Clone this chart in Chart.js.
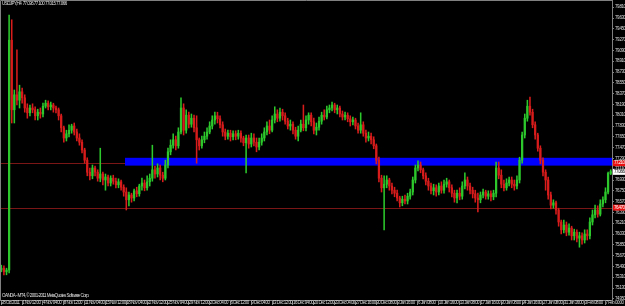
<!DOCTYPE html>
<html><head><meta charset="utf-8">
<script src="https://cdn.jsdelivr.net/npm/chart.js@4.4.1/dist/chart.umd.min.js"></script>
<style>html,body{margin:0;padding:0;background:#000;overflow:hidden}canvas{display:block}</style>
</head><body>
<canvas id="c" width="625" height="306"></canvas>
<script>
// USDJPY H4 candles, 28 Oct 2011 .. 7 Feb 2012
const openPrices = [
75.43,75.46,75.40,75.43,79.26,78.10,78.35,78.26,78.40,78.30,
78.13,78.05,78.13,78.10,78.00,78.06,78.03,78.16,78.21,78.15,
78.18,78.13,78.10,78.00,77.80,77.63,77.70,77.76,77.83,77.73,
77.63,77.56,77.43,77.26,77.06,77.00,77.13,77.06,76.96,77.03,
76.93,76.98,76.88,76.96,76.91,76.85,76.90,76.81,76.73,76.60,
76.68,76.63,76.75,76.70,76.83,76.88,76.80,76.90,76.96,77.10,
77.03,77.13,77.01,76.96,77.18,77.40,77.51,77.60,77.50,77.73,
78.13,77.76,78.01,77.86,77.96,77.80,77.60,77.50,77.60,77.66,
77.73,77.83,77.93,78.00,77.95,77.85,77.73,77.66,77.71,77.65,
77.70,77.66,77.71,77.63,77.55,77.63,77.53,77.63,77.56,77.48,
77.56,77.63,77.73,77.83,77.76,77.93,78.03,77.96,78.06,78.00,
77.91,77.83,77.86,77.76,77.66,77.76,77.86,77.80,77.93,78.01,
77.90,77.76,77.81,77.91,78.01,77.98,78.10,78.13,78.18,78.10,
78.13,78.03,77.98,78.01,77.95,77.90,77.93,77.83,77.76,77.85,
77.71,77.63,77.66,77.60,77.50,77.26,76.96,76.80,76.86,76.93,
76.83,76.76,76.71,76.63,76.55,76.61,76.58,76.66,76.73,76.93,
77.13,77.18,77.10,77.00,76.91,76.83,76.75,76.80,76.73,76.83,
76.76,76.86,76.90,76.80,76.71,76.63,76.71,76.66,76.83,76.93,
76.83,76.76,76.70,76.63,76.60,76.68,76.73,76.66,76.70,76.65,
76.71,77.13,77.01,76.86,76.80,76.88,76.93,76.86,76.83,76.93,
77.26,77.68,77.96,78.16,78.06,77.85,77.68,77.46,77.26,77.06,
76.93,76.68,76.51,76.55,76.43,76.23,76.10,76.18,76.06,76.13,
76.00,76.06,75.96,76.00,75.93,76.03,76.00,76.23,76.35,76.43,
76.36,76.53,76.60,76.73,77.04];
const highPrices = [
75.51,75.50,75.46,79.68,79.60,78.43,79.10,78.51,78.46,78.35,
78.20,78.18,78.20,78.15,78.11,78.13,78.21,78.26,78.25,78.23,
78.21,78.16,78.13,78.03,77.83,77.76,77.85,77.86,77.88,77.78,
77.70,77.60,77.46,77.30,77.13,77.18,77.16,77.10,77.46,77.06,
77.03,77.01,77.00,77.01,76.96,76.95,76.93,76.85,76.80,76.73,
76.71,76.78,76.81,76.86,76.96,76.93,77.00,77.03,77.51,77.16,
77.20,77.18,77.06,77.26,77.46,77.60,77.70,77.66,77.80,78.30,
78.20,78.10,78.06,78.03,78.01,78.00,77.63,77.66,77.73,77.80,
77.90,78.00,78.06,78.06,78.00,77.90,77.78,77.76,77.76,77.75,
77.75,77.76,77.75,77.66,77.68,77.68,77.71,77.70,77.63,77.63,
77.70,77.80,77.90,77.93,78.00,78.15,78.10,78.13,78.11,78.05,
77.96,77.93,77.90,77.81,77.83,77.93,78.18,78.00,78.05,78.05,
77.96,77.88,77.98,78.06,78.10,78.16,78.18,78.23,78.21,78.18,
78.16,78.08,78.06,78.05,78.00,77.98,77.96,77.88,78.05,77.90,
77.76,77.73,77.71,77.65,77.53,77.31,77.01,77.00,77.00,76.96,
76.88,76.81,76.76,76.66,76.66,76.68,76.71,76.78,76.98,77.18,
77.25,77.23,77.13,77.05,76.96,76.88,76.86,76.85,76.88,76.90,
76.93,76.96,76.93,76.85,76.76,76.76,76.80,76.90,77.05,76.98,
76.88,76.81,76.76,76.71,76.73,76.78,76.76,76.75,76.75,76.76,
77.23,77.23,77.10,76.93,76.95,76.98,76.98,76.93,77.00,77.31,
77.73,78.03,78.26,78.31,78.11,77.90,77.71,77.50,77.30,77.10,
76.98,76.73,76.60,76.58,76.46,76.26,76.26,76.23,76.20,76.16,
76.11,76.10,76.06,76.05,76.10,76.10,76.30,76.43,76.51,76.50,
76.60,76.65,76.80,77.06,77.10];
const lowPrices = [
75.40,75.35,75.35,75.38,77.88,77.88,78.18,78.13,78.21,78.06,
77.96,78.00,78.05,77.93,77.93,77.96,77.98,78.13,78.10,78.10,
78.06,78.05,77.93,77.73,77.56,77.58,77.65,77.71,77.68,77.58,
77.51,77.38,77.21,77.00,76.93,76.95,77.00,76.91,76.90,76.85,
76.76,76.83,76.83,76.86,76.80,76.80,76.76,76.66,76.43,76.50,
76.56,76.58,76.65,76.66,76.76,76.75,76.76,76.83,76.91,76.96,
76.98,76.93,76.90,76.93,77.13,77.35,77.46,77.43,77.46,77.70,
77.68,77.71,77.80,77.81,77.73,77.21,77.43,77.46,77.55,77.61,
77.70,77.78,77.86,77.88,77.80,77.66,77.60,77.61,77.58,77.60,
77.60,77.61,77.56,77.50,77.05,77.46,77.48,77.50,77.40,77.43,
77.51,77.58,77.68,77.70,77.73,77.88,77.90,77.91,77.93,77.86,
77.78,77.76,77.70,77.61,77.58,77.73,77.75,77.75,77.86,77.83,
77.70,77.68,77.76,77.86,77.93,77.95,78.05,78.08,78.05,78.03,
77.98,77.93,77.93,77.90,77.83,77.85,77.78,77.71,77.71,77.66,
77.56,77.58,77.53,77.45,77.20,76.90,76.73,76.10,76.80,76.76,
76.70,76.65,76.58,76.48,76.50,76.53,76.53,76.61,76.68,76.88,
77.08,77.05,76.95,76.85,76.76,76.70,76.68,76.66,76.68,76.71,
76.71,76.81,76.73,76.65,76.56,76.55,76.60,76.61,76.78,76.76,
76.70,76.63,76.56,76.40,76.55,76.63,76.61,76.61,76.58,76.60,
76.65,76.95,76.80,76.75,76.76,76.83,76.80,76.76,76.78,76.88,
77.21,77.63,77.91,78.01,77.80,77.61,77.41,77.20,77.00,76.76,
76.61,76.45,76.46,76.36,76.16,76.03,76.05,76.00,76.01,75.93,
75.93,75.90,75.81,75.86,75.88,75.93,75.95,76.18,76.30,76.31,
76.33,76.48,76.55,76.70,77.02];
const closePrices = [
75.46,75.40,75.43,79.26,78.10,78.35,78.26,78.40,78.30,78.13,
78.05,78.13,78.10,78.00,78.06,78.03,78.16,78.21,78.15,78.18,
78.13,78.10,78.00,77.80,77.63,77.70,77.76,77.83,77.73,77.63,
77.56,77.43,77.26,77.06,77.00,77.13,77.06,76.96,77.03,76.93,
76.98,76.88,76.96,76.91,76.85,76.90,76.81,76.73,76.60,76.68,
76.63,76.75,76.70,76.83,76.88,76.80,76.90,76.96,77.10,77.03,
77.13,77.01,76.96,77.18,77.40,77.51,77.60,77.50,77.73,78.13,
77.76,78.01,77.86,77.96,77.80,77.60,77.50,77.60,77.66,77.73,
77.83,77.93,78.00,77.95,77.85,77.73,77.66,77.71,77.65,77.70,
77.66,77.71,77.63,77.55,77.63,77.53,77.63,77.56,77.48,77.56,
77.63,77.73,77.83,77.76,77.93,78.03,77.96,78.06,78.00,77.91,
77.83,77.86,77.76,77.66,77.76,77.86,77.80,77.93,78.01,77.90,
77.76,77.81,77.91,78.01,77.98,78.10,78.13,78.18,78.10,78.13,
78.03,77.98,78.01,77.95,77.90,77.93,77.83,77.76,77.85,77.71,
77.63,77.66,77.60,77.50,77.26,76.96,76.80,76.86,76.93,76.83,
76.76,76.71,76.63,76.55,76.61,76.58,76.66,76.73,76.93,77.13,
77.18,77.10,77.00,76.91,76.83,76.75,76.80,76.73,76.83,76.76,
76.86,76.90,76.80,76.71,76.63,76.71,76.66,76.83,76.93,76.83,
76.76,76.70,76.63,76.60,76.68,76.73,76.66,76.70,76.65,76.71,
77.13,77.01,76.86,76.80,76.88,76.93,76.86,76.83,76.93,77.26,
77.68,77.96,78.16,78.06,77.85,77.68,77.46,77.26,77.06,76.93,
76.68,76.51,76.55,76.43,76.23,76.10,76.18,76.06,76.13,76.00,
76.06,75.96,76.00,75.93,76.03,76.00,76.23,76.35,76.43,76.36,
76.53,76.60,76.73,77.04,77.07];

// time-axis labels, one every 8 bars
const tickLabels = [
"28 Oct 2011","1 Nov 12:00","4 Nov 04:00","8 Nov 12:00","11 Nov 04:00","15 Nov 12:00",
"18 Nov 04:00","22 Nov 12:00","25 Nov 04:00","29 Nov 12:00","2 Dec 04:00","6 Dec 12:00",
"9 Dec 04:00","13 Dec 12:00","16 Dec 04:00","20 Dec 12:00","23 Dec 04:00","27 Dec 16:00",
"30 Dec 08:00","3 Jan 16:00","6 Jan 08:00","10 Jan 16:00","13 Jan 08:00","17 Jan 16:00",
"20 Jan 08:00","24 Jan 16:00","27 Jan 08:00","31 Jan 16:00","3 Feb 08:00","7 Feb 00:00"];
const barsPerLabel = 8;

// price-axis labels
const priceTicks = [79.81,79.63,79.45,79.27,79.09,78.91,78.73,78.55,78.37,78.19,78.01,77.83,77.65,
77.47,77.29,77.11,76.93,76.75,76.57,76.39,76.21,76.03,75.85,75.67,75.49,75.31,75.13,74.95];
const yMax = 79.93, yMin = 74.93;

// chart objects
const symbolTitle = "USDJPY,H4  77.036 77.100 77.015 77.066";
const copyright = "OANDA - MT4, \u00A9 2001-2011 MetaQuotes Software Corp.";
const levelLines = [77.21, 76.47];
const zoneStartBar = 48, zoneTop = 77.30, zoneBottom = 77.17;
const lastPrice = 77.066;

const FONT = '"Liberation Sans",Arial,sans-serif';
const BULL = '#2cc82c', BEAR = '#d81c1c';
const colors = closePrices.map((c, i) => c >= openPrices[i] ? BULL : BEAR);

const mtPlugin = {
  id: 'mt',
  beforeDraw(chart) {
    const c = chart.ctx; c.save(); c.fillStyle = '#000'; c.fillRect(0, 0, chart.width, chart.height); c.restore();
    c.letterSpacing = '-0.55px';
  },
  beforeDatasetsDraw(chart) {
    const { ctx, chartArea: a, scales: { x, y } } = chart;
    ctx.save();
    ctx.strokeStyle = '#7a1616'; ctx.lineWidth = 1;
    levelLines.forEach(v => {
      const py = Math.round(y.getPixelForValue(v)) + 0.5;
      ctx.beginPath(); ctx.moveTo(a.left, py); ctx.lineTo(a.right, py); ctx.stroke();
    });
    const half = (x.getPixelForValue(1) - x.getPixelForValue(0)) / 2;
    const x0 = x.getPixelForValue(zoneStartBar) - half;
    const yT = y.getPixelForValue(zoneTop), yB = y.getPixelForValue(zoneBottom);
    ctx.fillStyle = '#0000ff';
    ctx.fillRect(x0, yT, a.right - x0, yB - yT);
    ctx.restore();
  },
  afterDraw(chart) {
    const { ctx, chartArea: a, scales: { y } } = chart;
    ctx.save();
    ctx.strokeStyle = '#808080'; ctx.lineWidth = 1;
    ctx.beginPath(); ctx.moveTo(0.5, a.bottom); ctx.lineTo(0.5, 0.5); ctx.lineTo(a.right, 0.5); ctx.stroke();
    ctx.font = '4.5px ' + FONT; ctx.textBaseline = 'middle'; ctx.textAlign = 'left';
    ctx.fillStyle = '#e0e0e0';
    ctx.fillText(symbolTitle, 2, 4);
    ctx.fillText(copyright, 2, 296);
    levelLines.forEach(v => {
      const py = y.getPixelForValue(v);
      ctx.fillStyle = '#e81010'; ctx.fillRect(a.right + 1, py - 3, 12, 6);
      ctx.fillStyle = '#ffffff'; ctx.fillText(v.toFixed(3), a.right + 2, py);
    });
    const lp = y.getPixelForValue(lastPrice);
    ctx.fillStyle = '#ffffff'; ctx.fillRect(a.right + 1, lp - 3, 12, 6);
    ctx.fillStyle = '#000000'; ctx.fillText(lastPrice.toFixed(3), a.right + 2, lp);
    ctx.restore();
    ctx.letterSpacing = '0px';
  }
};

new Chart(document.getElementById('c'), {
  type: 'bar',
  data: {
    labels: closePrices.map((_, i) => i),
    datasets: [
      { label: 'body', data: openPrices.map((o, i) => [o, closePrices[i]]), backgroundColor: colors,
        barThickness: 1.6, minBarLength: 1, grouped: false, borderWidth: 0, borderSkipped: false },
      { label: 'wick', data: lowPrices.map((l, i) => [l, highPrices[i]]), backgroundColor: colors,
        barThickness: 0.9, grouped: false, borderWidth: 0, borderSkipped: false }
    ]
  },
  options: {
    responsive: false, animation: false, devicePixelRatio: 1,
    layout: { padding: 0 },
    plugins: { legend: { display: false }, tooltip: { enabled: false } },
    scales: {
      x: {
        offset: true,
        afterBuildTicks: s => { s.ticks = s.ticks.filter(t => t.value % barsPerLabel === 0); },
        afterFit: s => { s.height = 6; s.paddingLeft = 0; s.paddingRight = 0; },
        ticks: { autoSkip: false, maxRotation: 0, minRotation: 0, align: 'start', padding: -5,
          color: '#d8d8d8', font: { size: 4.5, family: FONT },
          callback: v => tickLabels[v / barsPerLabel] },
        grid: { drawOnChartArea: false, offset: false, color: '#808080', tickLength: 5 },
        border: { color: '#808080' }
      },
      y: {
        position: 'right', min: yMin, max: yMax,
        afterBuildTicks: s => { s.ticks = priceTicks.map(v => ({ value: v })); },
        afterFit: s => { s.width = 13; s.paddingTop = 0; s.paddingBottom = 0; },
        ticks: { color: '#d8d8d8', padding: 1, font: { size: 4.5, family: FONT }, callback: v => v.toFixed(3) },
        grid: { drawOnChartArea: false, color: '#808080', tickLength: 2 },
        border: { color: '#808080' }
      }
    }
  },
  plugins: [mtPlugin]
});
</script>
</body></html>
